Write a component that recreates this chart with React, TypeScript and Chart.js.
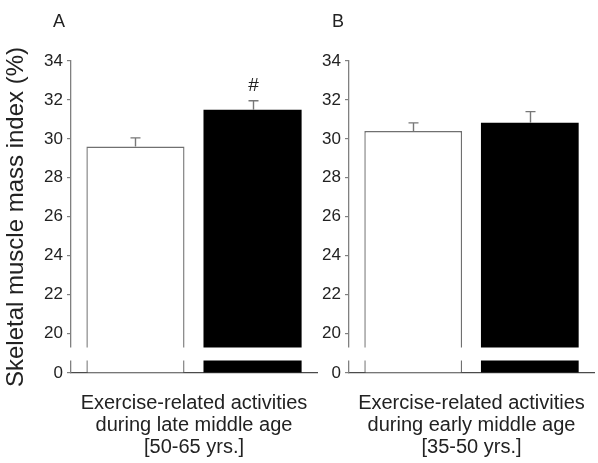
import React, { useEffect, useRef } from 'react';
import { Chart, registerables, LinearScale } from 'chart.js';

Chart.register(...registerables);

// ---------- data ----------
const CATEGORY_A = ['Exercise-related activities', 'during late middle age', '[50-65 yrs.]'];
const CATEGORY_B = ['Exercise-related activities', 'during early middle age', '[35-50 yrs.]'];
const GROUPS = ['Low', 'High'];
const MEANS_A = [29.6, 31.5];
const SEM_A = [0.45, 0.46];
const MARKS_A = ['', '#'];
const MEANS_B = [30.4, 30.83];
const SEM_B = [0.42, 0.57];
const MARKS_B = ['', ''];
const Y_TICKS = [0, 20, 22, 24, 26, 28, 30, 32, 34];
const Y_MIN = 0;
const Y_MAX = 34;
const BREAK_VALUE = 19.3;
const Y_TITLE = 'Skeletal muscle mass index (%)';
const PANEL_LETTERS = ['A', 'B'];

// ---------- style ----------
const FONT = '"Liberation Sans", Arial, Helvetica, sans-serif';
const TEXT = '#222222';
const AXIS = '#808080';
const LOWER_PX = 12;
const GAP_PX = 14;

Chart.defaults.font.family = FONT;

class BrokenLinearScale extends LinearScale {
  static id = 'brokenLinear';
  static defaults = LinearScale.defaults;
  getPixelForValue(value: number) {
    const upperBottom = this.bottom - LOWER_PX - GAP_PX;
    if (value >= BREAK_VALUE) {
      return upperBottom - ((value - BREAK_VALUE) / (this.max - BREAK_VALUE)) * (upperBottom - this.top);
    }
    return this.bottom - (value / BREAK_VALUE) * (LOWER_PX + GAP_PX);
  }
  getValueForPixel(pixel: number) {
    const upperBottom = this.bottom - LOWER_PX - GAP_PX;
    if (pixel <= upperBottom) {
      return BREAK_VALUE + ((upperBottom - pixel) / (upperBottom - this.top)) * (this.max - BREAK_VALUE);
    }
    return ((this.bottom - pixel) / (LOWER_PX + GAP_PX)) * BREAK_VALUE;
  }
}
Chart.register(BrokenLinearScale as any);

const breakPlugin = {
  id: 'axisBreak',
  afterDatasetsDraw(chart: any) {
    const { ctx, chartArea } = chart;
    const y = chart.scales.y;
    const top = y.getPixelForValue(BREAK_VALUE);
    ctx.save();
    ctx.fillStyle = '#ffffff';
    ctx.fillRect(chartArea.left - 3, top + 0.5, chartArea.right - chartArea.left + 6, GAP_PX - 1);
    ctx.restore();
  },
};

const errorPlugin = {
  id: 'errorBars',
  afterDatasetsDraw(chart: any) {
    const { ctx } = chart;
    const y = chart.scales.y;
    chart.data.datasets.forEach((ds: any, i: number) => {
      const meta = chart.getDatasetMeta(i);
      meta.data.forEach((bar: any, j: number) => {
        const v = ds.data[j];
        const e = ds.errors[j];
        const yBar = y.getPixelForValue(v);
        const yTop = y.getPixelForValue(v + e);
        const x = Math.round(bar.x) + 0.5;
        ctx.save();
        ctx.strokeStyle = '#777777';
        ctx.lineWidth = 1.4;
        ctx.beginPath();
        ctx.moveTo(x, yBar);
        ctx.lineTo(x, yTop);
        ctx.moveTo(x - 5, yTop);
        ctx.lineTo(x + 5, yTop);
        ctx.stroke();
        const mark = ds.marks[j];
        if (mark) {
          ctx.fillStyle = TEXT;
          ctx.font = `19px ${FONT}`;
          ctx.textAlign = 'center';
          ctx.textBaseline = 'middle';
          ctx.fillText(mark, x, yTop - 15);
        }
        ctx.restore();
      });
    });
  },
};

function makeConfig(category: string[], means: number[], sems: number[], marks: string[], yWidth: number, withTitle: boolean, padRight: number) {
  const barStyles = [
    { backgroundColor: '#ffffff', borderColor: '#707070', borderWidth: 1.4 },
    { backgroundColor: '#000000', borderColor: '#000000', borderWidth: 0 },
  ];
  return {
    type: 'bar',
    data: {
      labels: [category],
      datasets: GROUPS.map((g, i) => ({
        label: g,
        data: [means[i]],
        errors: [sems[i]],
        marks: [marks[i]],
        ...barStyles[i],
        borderSkipped: 'start',
        categoryPercentage: 0.952,
        barPercentage: 0.838,
      })),
    },
    options: {
      animation: false,
      responsive: false,
      events: [],
      layout: { padding: { top: 61, right: padRight, left: 0, bottom: 0 } },
      plugins: { legend: { display: false }, tooltip: { enabled: false } },
      scales: {
        x: {
          type: 'category',
          grid: { display: false, drawTicks: true, tickLength: 19 },
          border: { display: true, color: '#4a4a4a', width: 1.3 },
          ticks: { font: { size: 20, lineHeight: 1.1 }, color: TEXT, padding: 0, maxRotation: 0, autoSkip: false },
          afterFit: (s: any) => { s.height = 90; s.paddingLeft = 0; s.paddingRight = 0; },
        },
        y: {
          type: 'brokenLinear',
          min: Y_MIN,
          max: Y_MAX,
          afterBuildTicks: (s: any) => { s.ticks = Y_TICKS.map((v) => ({ value: v })); },
          grid: { display: true, drawOnChartArea: false, drawTicks: true, tickLength: 4, color: AXIS, lineWidth: 1.2 },
          border: { display: true, color: AXIS, width: 1.3 },
          ticks: { font: { size: 17 }, color: TEXT, padding: 4, autoSkip: false },
          title: { display: withTitle, text: Y_TITLE, font: { size: 24 }, color: TEXT, padding: { top: 2, bottom: 0 } },
          afterFit: (s: any) => { s.width = yWidth; },
        },
      },
    },
    plugins: [breakPlugin, errorPlugin],
  } as any;
}

export default function App() {
  const refA = useRef<HTMLCanvasElement>(null);
  const refB = useRef<HTMLCanvasElement>(null);
  useEffect(() => {
    const a = new Chart(refA.current as HTMLCanvasElement, makeConfig(CATEGORY_A, MEANS_A, SEM_A, MARKS_A, 71, true, 1));
    const b = new Chart(refB.current as HTMLCanvasElement, makeConfig(CATEGORY_B, MEANS_B, SEM_B, MARKS_B, 31, false, 4));
    return () => { a.destroy(); b.destroy(); };
  }, []);
  const letterStyle = (left: number): React.CSSProperties => ({
    position: 'absolute', left, top: 12, fontFamily: FONT, fontSize: 18, lineHeight: '18px', color: TEXT,
  });
  return (
    <div style={{ position: 'absolute', left: 0, top: 0, width: 598, height: 463, background: '#fff', overflow: 'hidden' }}>
      <canvas ref={refA} width={318} height={463} style={{ position: 'absolute', left: 0, top: 0, width: 318, height: 463 }} />
      <canvas ref={refB} width={280} height={463} style={{ position: 'absolute', left: 318, top: 0, width: 280, height: 463 }} />
      <div style={letterStyle(53)}>{PANEL_LETTERS[0]}</div>
      <div style={letterStyle(332)}>{PANEL_LETTERS[1]}</div>
    </div>
  );
}
